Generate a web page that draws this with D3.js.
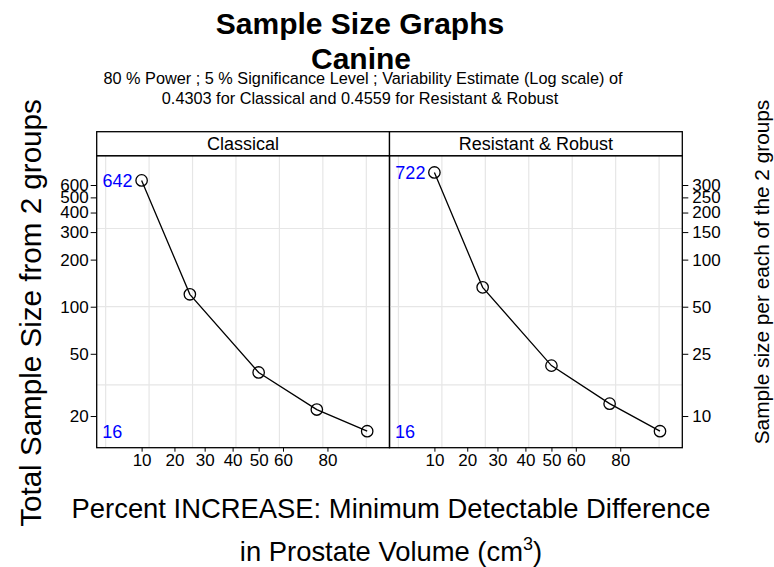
<!DOCTYPE html>
<html>
<head>
<meta charset="utf-8">
<script src="https://cdn.jsdelivr.net/npm/d3@7"></script>
<style>
  body { margin: 0; background: #fff; }
  svg { font-family: "Liberation Sans", Arial, sans-serif; }
</style>
</head>
<body>
<svg></svg>
<script>
// data
var panels = ['Classical', 'Resistant & Robust'];
var pctIncrease = [10, 25, 50, 75, 100];
var classicalN = [642, 120, 38, 22, 16];
var robustN = [722, 133, 42, 24, 16];
var series = [classicalN, robustN];

var xTicks = [10, 20, 30, 40, 50, 60, 80];
var yTicks = [600, 500, 400, 300, 200, 100, 50, 20];
var yTicksPerGroup = [300, 250, 200, 150, 100, 50, 25, 10];

var svgWidth = 774, svgHeight = 567;

var svg = d3.select('svg')
.attr('width', svgWidth)
.attr('height', svgHeight);

// layout
var panelLeft = 96.7, panelW = 292.8;
var stripH = 24, panelTop = 155.7, panelH = 292;

// x is log10(1 + pct/100)
var xScale = d3.scaleLog()
.domain([Math.pow(10, -0.0103), Math.pow(10, 0.3267)])
.range([0, panelW]);
function xPos(p) { return xScale(1 + p / 100); }

var yScale = d3.scaleLog()
.domain([Math.pow(10, 1.0985), Math.pow(10, 2.9655)])
.range([panelH, 0]);

var xGrid = [0, 0.05, 0.1, 0.15, 0.2, 0.25, 0.3];
var yGrid = [1.5, 2, 2.5];

// titles
svg.append('text')
.attr('x', 360).attr('y', 33.5)
.attr('text-anchor', 'middle')
.attr('font-size', 30).attr('font-weight', 'bold')
.text('Sample Size Graphs');

svg.append('text')
.attr('x', 361).attr('y', 68.5)
.attr('text-anchor', 'middle')
.attr('font-size', 30).attr('font-weight', 'bold')
.text('Canine');

svg.append('text')
.attr('x', 363).attr('y', 83.5)
.attr('text-anchor', 'middle')
.attr('font-size', 16.3)
.text('80 % Power ; 5 % Significance Level ; Variability Estimate (Log scale) of');

svg.append('text')
.attr('x', 360).attr('y', 103.5)
.attr('text-anchor', 'middle')
.attr('font-size', 16.3)
.text('0.4303 for Classical and 0.4559 for Resistant & Robust');

panels.forEach(function(name, k) {
  var g = svg.append('g')
  .attr('transform', 'translate(' + (panelLeft + k * panelW) + ',' + panelTop + ')');

  // grid
  g.selectAll('.vg').data(xGrid).enter().append('line')
  .attr('x1', function(d) { return xScale(Math.pow(10, d)); })
  .attr('x2', function(d) { return xScale(Math.pow(10, d)); })
  .attr('y1', 0).attr('y2', panelH)
  .attr('stroke', '#e6e6e6').attr('stroke-width', 1.2);

  g.selectAll('.hg').data(yGrid).enter().append('line')
  .attr('y1', function(d) { return yScale(Math.pow(10, d)); })
  .attr('y2', function(d) { return yScale(Math.pow(10, d)); })
  .attr('x1', 0).attr('x2', panelW)
  .attr('stroke', '#e6e6e6').attr('stroke-width', 1.2);

  var vals = series[k];
  var pts = pctIncrease.map(function(p, i) { return [xPos(p), yScale(vals[i])]; });

  g.append('path')
  .attr('d', d3.line()(pts))
  .attr('fill', 'none')
  .attr('stroke', '#000')
  .attr('stroke-width', 1.3);

  g.selectAll('circle').data(pts).enter().append('circle')
  .attr('cx', function(d) { return d[0]; })
  .attr('cy', function(d) { return d[1]; })
  .attr('r', 5.7)
  .attr('fill', 'none')
  .attr('stroke', '#000')
  .attr('stroke-width', 1.3);

  // max and min labels
  g.append('text')
  .attr('x', xPos(pctIncrease[0]) - 9)
  .attr('y', yScale(d3.max(vals)))
  .attr('dy', '0.35em')
  .attr('text-anchor', 'end')
  .attr('font-size', 18).attr('fill', '#0000ff')
  .text(d3.max(vals));

  g.append('text')
  .attr('x', 5.5)
  .attr('y', yScale(d3.min(vals)))
  .attr('dy', '0.4em')
  .attr('font-size', 18).attr('fill', '#0000ff')
  .text(d3.min(vals));

  // panel border
  g.append('rect')
  .attr('width', panelW).attr('height', panelH)
  .attr('fill', 'none').attr('stroke', '#000').attr('stroke-width', 1.3);

  // strip
  g.append('rect')
  .attr('y', -stripH)
  .attr('width', panelW).attr('height', stripH)
  .attr('fill', '#fff').attr('stroke', '#000').attr('stroke-width', 1.3);

  g.append('text')
  .attr('x', panelW / 2).attr('y', -stripH / 2)
  .attr('dy', '0.36em')
  .attr('text-anchor', 'middle')
  .attr('font-size', 18)
  .text(name);

  // x axis
  var x_axis = d3.axisBottom(xScale)
  .tickValues(xTicks.map(function(p) { return 1 + p / 100; }))
  .tickFormat(function(d) { return Math.round((d - 1) * 100); })
  .tickSize(4).tickPadding(2);

  g.append('g')
  .attr('transform', 'translate(0,' + panelH + ')')
  .call(x_axis)
  .call(function(a) {
    a.select('.domain').remove();
    a.selectAll('text').attr('font-size', 17).attr('fill', '#000').attr('font-family', null);
  });
});

// left axis
var y_axis = d3.axisLeft(yScale)
.tickValues(yTicks)
.tickFormat(d3.format('d'))
.tickSize(6).tickPadding(2);

svg.append('g')
.attr('transform', 'translate(' + panelLeft + ',' + panelTop + ')')
.call(y_axis)
.call(function(a) {
  a.select('.domain').remove();
  a.selectAll('text').attr('font-size', 17).attr('fill', '#000').attr('font-family', null);
});

// right axis, per group
var y_axis_r = d3.axisRight(yScale)
.tickValues(yTicks)
.tickFormat(function(d, i) { return yTicksPerGroup[i]; })
.tickSize(6).tickPadding(4);

svg.append('g')
.attr('transform', 'translate(' + (panelLeft + 2 * panelW) + ',' + panelTop + ')')
.call(y_axis_r)
.call(function(a) {
  a.select('.domain').remove();
  a.selectAll('text').attr('font-size', 17).attr('fill', '#000').attr('font-family', null);
});

// axis titles
svg.append('text')
.attr('transform', 'translate(41,313) rotate(-90)')
.attr('text-anchor', 'middle')
.attr('font-size', 29.6)
.text('Total Sample Size from 2 groups');

svg.append('text')
.attr('transform', 'translate(769,272) rotate(-90)')
.attr('text-anchor', 'middle')
.attr('font-size', 20.8)
.text('Sample size per each of the 2 groups');

svg.append('text')
.attr('x', 391).attr('y', 518)
.attr('text-anchor', 'middle')
.attr('font-size', 27.4)
.text('Percent INCREASE: Minimum Detectable Difference');

var t2 = svg.append('text')
.attr('x', 391).attr('y', 561)
.attr('text-anchor', 'middle')
.attr('font-size', 27.4);
t2.append('tspan').text('in Prostate Volume (cm');
t2.append('tspan').attr('dy', -11).attr('font-size', 18).text('3');
t2.append('tspan').attr('dy', 11).text(')');
</script>
</body>
</html>
